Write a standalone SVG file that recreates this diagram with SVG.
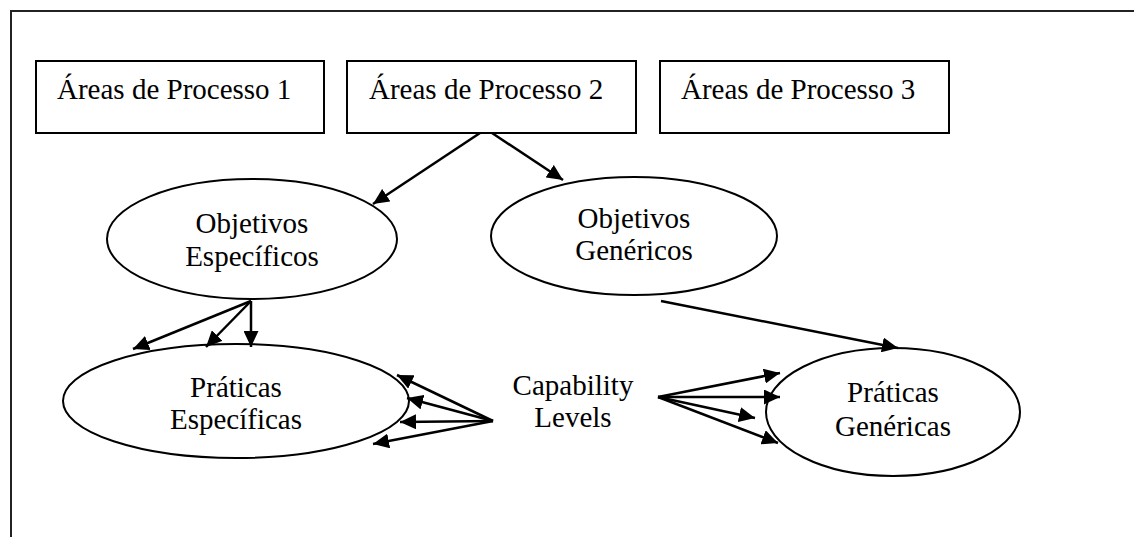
<svg xmlns="http://www.w3.org/2000/svg" width="1134" height="537" viewBox="0 0 1134 537">
  <style>
    .frame { fill: none; stroke: #222; stroke-width: 2; }
    .box { fill: #fff; stroke: #000; stroke-width: 2; }
    .oval { fill: #fff; stroke: #000; stroke-width: 2; }
    .lbl { font-family: "Liberation Serif", "Times New Roman", serif; font-size: 29px; fill: #000; }
    .mid { text-anchor: middle; }
    .conn { stroke: #000; stroke-width: 2.5; fill: none; marker-end: url(#head); }
  </style>
  <defs>
    <marker id="head" markerUnits="userSpaceOnUse" markerWidth="17" markerHeight="15" refX="16" refY="7.5" orient="auto">
      <path d="M0,0 L16,7.5 L0,15 Z" fill="#000"/>
    </marker>
  </defs>

  <rect width="1134" height="537" fill="#fff"/>
  <!-- open page frame: top and left edges -->
  <path class="frame" d="M11,537 L11,11 L1134,11"/>

  <g id="area1">
    <rect class="box" x="36" y="61" width="288" height="72"/>
    <text class="lbl" x="57" y="99">Áreas de Processo 1</text>
  </g>
  <g id="area2">
    <rect class="box" x="347" y="61" width="289" height="72"/>
    <text class="lbl" x="369" y="99">Áreas de Processo 2</text>
  </g>
  <g id="area3">
    <rect class="box" x="660" y="61" width="289" height="72"/>
    <text class="lbl" x="681" y="99">Áreas de Processo 3</text>
  </g>

  <g id="objetivos-especificos">
    <ellipse class="oval" cx="252" cy="239" rx="145" ry="60"/>
    <text class="lbl mid" x="252" y="233">Objetivos</text>
    <text class="lbl mid" x="252" y="266">Específicos</text>
  </g>
  <g id="objetivos-genericos">
    <ellipse class="oval" cx="634" cy="236" rx="143" ry="59"/>
    <text class="lbl mid" x="634" y="228">Objetivos</text>
    <text class="lbl mid" x="634" y="260">Genéricos</text>
  </g>
  <g id="praticas-especificas">
    <ellipse class="oval" cx="236" cy="401" rx="173" ry="57"/>
    <text class="lbl mid" x="236" y="397">Práticas</text>
    <text class="lbl mid" x="236" y="429">Específicas</text>
  </g>
  <g id="praticas-genericas">
    <ellipse class="oval" cx="893" cy="412" rx="127" ry="64"/>
    <text class="lbl mid" x="893" y="402">Práticas</text>
    <text class="lbl mid" x="893" y="436">Genéricas</text>
  </g>
  <g id="capability-levels">
    <text class="lbl mid" x="573" y="395">Capability</text>
    <text class="lbl mid" x="573" y="427">Levels</text>
  </g>

  <g id="connectors">
    <line class="conn" x1="480" y1="133" x2="373" y2="204"/>
    <line class="conn" x1="492" y1="133" x2="563" y2="180"/>

    <line class="conn" x1="251" y1="301" x2="133" y2="349"/>
    <line class="conn" x1="251" y1="301" x2="206" y2="347"/>
    <line class="conn" x1="251" y1="301" x2="251" y2="347"/>

    <line class="conn" x1="661" y1="301" x2="898" y2="348"/>

    <line class="conn" x1="493" y1="421" x2="397" y2="375"/>
    <line class="conn" x1="493" y1="421" x2="407" y2="398"/>
    <line class="conn" x1="493" y1="421" x2="400" y2="422"/>
    <line class="conn" x1="493" y1="421" x2="373" y2="444"/>

    <line class="conn" x1="658" y1="397" x2="780" y2="373"/>
    <line class="conn" x1="658" y1="397" x2="780" y2="397"/>
    <line class="conn" x1="658" y1="397" x2="755" y2="418"/>
    <line class="conn" x1="658" y1="397" x2="778" y2="443"/>
  </g>
</svg>
